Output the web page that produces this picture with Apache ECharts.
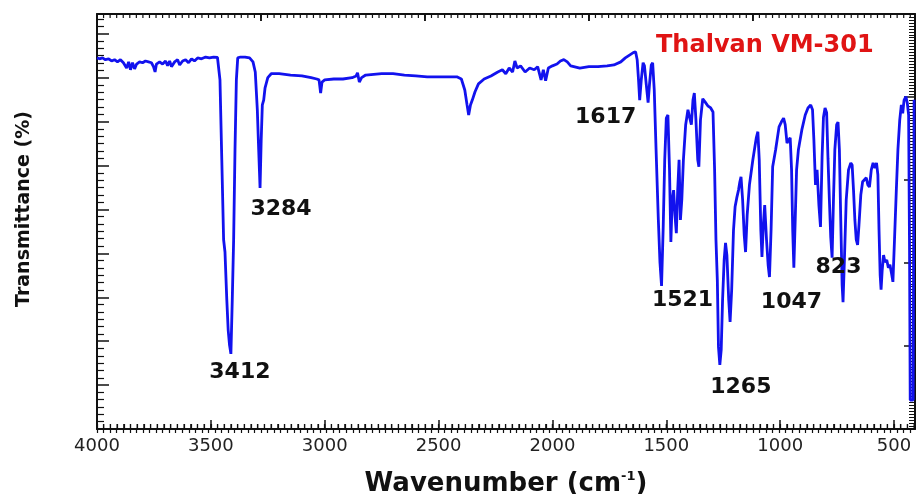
<!DOCTYPE html>
<html>
<head>
<meta charset="utf-8">
<script src="https://cdn.jsdelivr.net/npm/echarts@6/dist/echarts.min.js"></script>
<style>
  html, body { margin: 0; padding: 0; background: #ffffff; }
  #chart { width: 916px; height: 494px; }
</style>
</head>
<body>
<div id="chart"></div>
<script>
// FT-IR spectrum of Thalvan VM-301: wavenumber (cm-1) against transmittance (%)
const wavenumber = [
  4000, 3989, 3976, 3963, 3949, 3936, 3923, 3910, 3897, 3884,
  3870, 3861, 3853, 3844, 3835, 3826, 3813, 3800, 3787, 3774,
  3761, 3752, 3745, 3739, 3725, 3712, 3699, 3690, 3681, 3673,
  3659, 3646, 3637, 3624, 3611, 3598, 3585, 3572, 3558, 3541,
  3523, 3506, 3488, 3471, 3460, 3452, 3444, 3438, 3430, 3424,
  3418, 3412, 3406, 3400, 3394, 3388, 3382, 3370, 3350, 3330,
  3315, 3305, 3296, 3290, 3284, 3279, 3274, 3268, 3262, 3250,
  3235, 3200, 3150, 3100, 3060, 3035, 3025, 3018, 3012, 3000,
  2960, 2920, 2880, 2862, 2856, 2848, 2838, 2820, 2750, 2700,
  2650, 2600, 2550, 2500, 2450, 2420, 2400, 2385, 2375, 2368,
  2360, 2352, 2340, 2325, 2300, 2270, 2240, 2220, 2205, 2190,
  2175, 2165, 2155, 2140, 2120, 2100, 2080, 2065, 2050, 2040,
  2030, 2018, 2000, 1980, 1965, 1950, 1935, 1920, 1880, 1840,
  1800, 1760, 1730, 1700, 1680, 1660, 1645, 1635, 1628, 1622,
  1617, 1610, 1602, 1596, 1588, 1580, 1574, 1566, 1560, 1553,
  1545, 1535, 1528, 1521, 1514, 1507, 1500, 1493, 1486, 1480,
  1474, 1468, 1462, 1456, 1450, 1444, 1438, 1432, 1425, 1415,
  1405, 1397, 1390, 1383, 1377, 1370, 1362, 1357, 1350, 1340,
  1330, 1318, 1305, 1295, 1288, 1282, 1276, 1271, 1265, 1259,
  1253, 1246, 1240, 1234, 1226, 1220, 1213, 1205, 1198, 1190,
  1183, 1177, 1172, 1165, 1158, 1152, 1145, 1135, 1120, 1105,
  1098, 1092, 1085, 1080, 1074, 1068, 1060, 1053, 1047, 1040,
  1033, 1020, 1005, 995, 985, 978, 970, 963, 956, 950,
  945, 940, 934, 928, 920, 905, 890, 878, 866, 858,
  852, 845, 838, 830, 823, 816, 810, 803, 796, 790,
  784, 778, 772, 766, 760, 752, 746, 740, 734, 728,
  724, 718, 710, 700, 690, 684, 678, 672, 666, 660,
  654, 646, 638, 630, 622, 615, 608, 600, 592, 584,
  577, 571, 566, 561, 557, 552, 546, 540, 532, 525,
  518, 510, 505, 498, 490, 483, 475, 468, 462, 456,
  448, 442, 436, 432, 429, 416, 412
];

const transmittance = [
  84.5, 84.3, 84.5, 84.1, 84.3, 83.8, 84.1, 83.6, 84.1, 83.4,
  82.2, 83.6, 81.8, 83.4, 82.0, 83.1, 83.6, 83.4, 83.8, 83.6,
  83.4, 82.5, 81.3, 83.1, 83.6, 83.1, 83.8, 82.7, 83.8, 82.5,
  83.6, 84.1, 82.9, 83.8, 84.1, 83.4, 84.3, 83.8, 84.5, 84.3,
  84.7, 84.5, 84.7, 84.6, 79.5, 61.3, 43.1, 40.3, 29.4, 22.6,
  19.1, 17.1, 29.4, 43.1, 63.6, 79.5, 84.5, 84.7, 84.7, 84.5,
  83.6, 81.3, 72.7, 63.6, 54.9, 65.8, 73.8, 74.9, 77.7, 80.0,
  80.9, 80.9, 80.6, 80.4, 80.0, 79.7, 79.5, 76.5, 79.0, 79.5,
  79.7, 79.7, 80.0, 80.4, 81.1, 79.0, 80.0, 80.6, 80.9, 80.9,
  80.6, 80.4, 80.2, 80.2, 80.2, 80.2, 79.7, 77.2, 73.8, 71.5,
  73.8, 74.9, 76.8, 78.6, 79.7, 80.4, 81.3, 81.8, 80.9, 82.2,
  81.3, 83.8, 82.2, 82.7, 81.3, 82.2, 81.8, 82.5, 79.5, 81.8,
  79.3, 82.2, 82.7, 83.1, 83.8, 84.1, 83.6, 82.7, 82.2, 82.5,
  82.5, 82.7, 82.9, 83.6, 84.5, 85.2, 85.7, 85.9, 84.1, 79.5,
  74.9, 79.5, 83.4, 82.7, 78.4, 74.3, 78.4, 82.9, 83.4, 77.2,
  63.6, 47.6, 38.0, 32.6, 45.3, 61.3, 70.8, 71.5, 59.0, 42.6,
  52.2, 54.4, 48.7, 44.6, 54.4, 61.3, 47.6, 52.2, 61.3, 69.3,
  72.7, 70.8, 69.3, 74.9, 76.5, 70.4, 61.3, 59.7, 70.4, 75.2,
  74.5, 73.6, 73.1, 72.2, 59.0, 43.1, 33.9, 18.7, 14.6, 18.0,
  29.4, 38.5, 42.4, 39.6, 29.4, 24.4, 31.7, 45.3, 50.6, 52.8,
  54.4, 56.3, 57.4, 52.2, 44.2, 40.3, 48.7, 55.6, 61.3, 66.3,
  67.7, 61.3, 45.3, 39.2, 46.5, 51.0, 43.1, 37.4, 34.6, 45.3,
  59.7, 63.6, 68.8, 69.9, 70.8, 69.3, 65.1, 65.8, 66.3, 59.0,
  45.3, 36.7, 47.6, 59.0, 63.6, 68.1, 71.5, 73.1, 73.8, 72.7,
  65.8, 55.6, 59.0, 51.0, 46.0, 62.0, 71.0, 73.1, 72.0, 61.5,
  52.2, 43.7, 39.0, 52.2, 63.6, 69.3, 69.9, 63.6, 47.6, 32.8,
  28.9, 38.5, 52.2, 59.0, 60.6, 60.1, 54.4, 47.6, 43.1, 41.9,
  46.5, 53.3, 56.3, 56.7, 57.2, 55.6, 55.1, 59.0, 60.6, 59.4,
  60.6, 57.9, 45.3, 35.1, 31.7, 36.2, 39.6, 38.0, 38.5, 36.7,
  37.4, 35.1, 33.5, 43.1, 54.4, 63.6, 70.4, 73.8, 71.9, 74.9,
  75.7, 74.3, 71.5, 40.8, 6.6, 6.6, 75.0
];

// assigned absorption bands (cm-1)
const peakBands = [3412, 3284, 1617, 1521, 1265, 1047, 823];

// wavenumber tick labels
const xTickValues = [4000, 3500, 3000, 2500, 2000, 1500, 1000, 500];

// tick marks along the top frame
const topTickValues = [3280, 2560, 1840, 1120];

const X_MIN = 408;
const X_MAX = 4000;

// where each band label sits relative to its band minimum (px)
const bandLabelShift = {
  3412: [9, 18],
  3284: [21, 21],
  1617: [-34, 17],
  1521: [21, 14],
  1265: [21, 22],
  1047: [22, 25],
  823: [18, 40]
};

const spectrum = wavenumber.map((w, i) => [w, transmittance[i]]);
const valueAt = (w) => transmittance[wavenumber.indexOf(w)];

// evenly spaced minor ticks stepping down from the top of the range
function minorTicks(start, step) {
  const out = [];
  for (let v = start; v >= X_MIN; v -= step) out.push(Math.round(v * 100) / 100);
  return out;
}
const xMinorTicks = minorTicks(X_MAX, 500 / 17);
const topMinorTicks = minorTicks(X_MAX, 720 / 25);

// frame tick kinds: 0 = bottom minor, 1 = top major, 2 = top minor
const frameTicks = []
  .concat(xMinorTicks.map((v) => [v, 0]))
  .concat(topTickValues.map((v) => [v, 1]))
  .concat(topMinorTicks.map((v) => [v, 2]));
const frameTickStyle = {
  0: { top: false, length: 5, width: 1.2 },
  1: { top: true, length: 7, width: 1.5 },
  2: { top: true, length: 4, width: 1.2 }
};

const FONT = 'DejaVu Sans';
const INK = '#111111';

function frameLine() {
  return { show: true, onZero: false, lineStyle: { color: INK, width: 2 } };
}

// extra wavenumber axis that only carries tick marks
function tickAxis(position, values, length, width) {
  return {
    type: 'value',
    position: position,
    inverse: true,
    min: X_MIN,
    max: X_MAX,
    axisLine: { show: false },
    axisTick: { show: true, inside: true, length: length, customValues: values, lineStyle: { color: INK, width: width } },
    axisLabel: { show: false },
    splitLine: { show: false }
  };
}

const chart = echarts.init(document.getElementById('chart'));

const option = {
  animation: false,
  backgroundColor: '#ffffff',
  title: {
    text: 'Thalvan VM-301',
    left: 651,
    top: 29,
    textStyle: { color: '#e01414', fontFamily: FONT, fontWeight: 'bold', fontSize: 24 }
  },
  grid: { left: 97, right: 1, top: 14, bottom: 65, containLabel: false, outerBoundsMode: 'none' },
  xAxis: [
    {
      type: 'value',
      position: 'bottom',
      inverse: true,
      min: X_MIN,
      max: X_MAX,
      name: '{m|Wavenumber (cm}{s|-1}{m|)}',
      nameLocation: 'middle',
      nameGap: 41,
      nameTextStyle: {
        rich: {
          m: { fontFamily: FONT, fontWeight: 'bold', fontSize: 26, color: INK, lineHeight: 28 },
          s: { fontFamily: FONT, fontWeight: 'bold', fontSize: 13, color: INK, lineHeight: 28, verticalAlign: 'top' }
        }
      },
      axisLine: frameLine(),
      axisTick: { show: true, inside: true, length: 9, customValues: xTickValues, lineStyle: { color: INK, width: 1.5 } },
      axisLabel: {
        show: true,
        customValues: xTickValues,
        formatter: (v) => String(v),
        margin: 8,
        fontFamily: FONT,
        fontSize: 18,
        color: '#222222'
      },
      splitLine: { show: false }
    },
    tickAxis('bottom', xMinorTicks, 5, 1.2),
    {
      type: 'value',
      position: 'top',
      inverse: true,
      min: X_MIN,
      max: X_MAX,
      axisLine: frameLine(),
      axisTick: { show: true, inside: true, length: 7, customValues: topTickValues, lineStyle: { color: INK, width: 1.5 } },
      axisLabel: { show: false },
      splitLine: { show: false }
    },
    tickAxis('top', topMinorTicks, 4, 1.2)
  ],
  yAxis: [
    {
      type: 'value',
      position: 'left',
      min: 0,
      max: 94.5,
      interval: 10,
      name: 'Transmittance (%)',
      nameLocation: 'middle',
      nameGap: 63,
      nameTextStyle: { fontFamily: FONT, fontWeight: 'bold', fontSize: 19, color: INK, padding: [0, 0, 0, 25] },
      axisLine: frameLine(),
      axisTick: { show: true, inside: true, length: 12, lineStyle: { color: INK, width: 1.5 } },
      minorTick: { show: true, splitNumber: 6, length: 7, lineStyle: { color: INK, width: 1.2 } },
      axisLabel: { show: false },
      splitLine: { show: false }
    },
    {
      type: 'value',
      position: 'right',
      min: 0,
      max: 5,
      interval: 1,
      axisLine: frameLine(),
      axisTick: { show: true, inside: true, length: 11, lineStyle: { color: INK, width: 1.5 } },
      minorTick: { show: true, splitNumber: 28, length: 6, lineStyle: { color: INK, width: 1 } },
      axisLabel: { show: false },
      splitLine: { show: false }
    }
  ],
  series: [
    {
      type: 'line',
      name: 'Thalvan VM-301',
      xAxisIndex: 0,
      yAxisIndex: 0,
      data: spectrum,
      showSymbol: false,
      symbol: 'none',
      lineStyle: { color: '#1212ee', width: 2.8 },
      z: 3,
      markPoint: {
        symbol: 'circle',
        symbolSize: 1,
        itemStyle: { color: 'rgba(0,0,0,0)' },
        label: {
          show: true,
          position: 'inside',
          formatter: '{c}',
          fontFamily: FONT,
          fontWeight: 'bold',
          fontSize: 22,
          color: INK
        },
        data: peakBands.map((w) => ({
          coord: [w, valueAt(w)],
          value: w,
          symbolOffset: bandLabelShift[w]
        }))
      }
    },
    {
      // small tick marks along the bottom and top frame lines
      type: 'custom',
      name: 'frame ticks',
      xAxisIndex: 0,
      yAxisIndex: 0,
      data: frameTicks,
      silent: true,
      clip: false,
      z: 5,
      renderItem: (params, api) => {
        const rect = params.coordSys;
        const s = frameTickStyle[api.value(1)];
        if (!s) return null;
        const x = api.coord([api.value(0), 0])[0];
        const y0 = s.top ? rect.y : rect.y + rect.height;
        const y1 = s.top ? y0 + s.length : y0 - s.length;
        return {
          type: 'line',
          shape: { x1: x, y1: y0, x2: x, y2: y1 },
          style: { stroke: INK, lineWidth: s.width }
        };
      }
    }
  ]
};

try {
  chart.setOption(option);
} catch (e) {
  console.error(e);
}
</script>
</body>
</html>
